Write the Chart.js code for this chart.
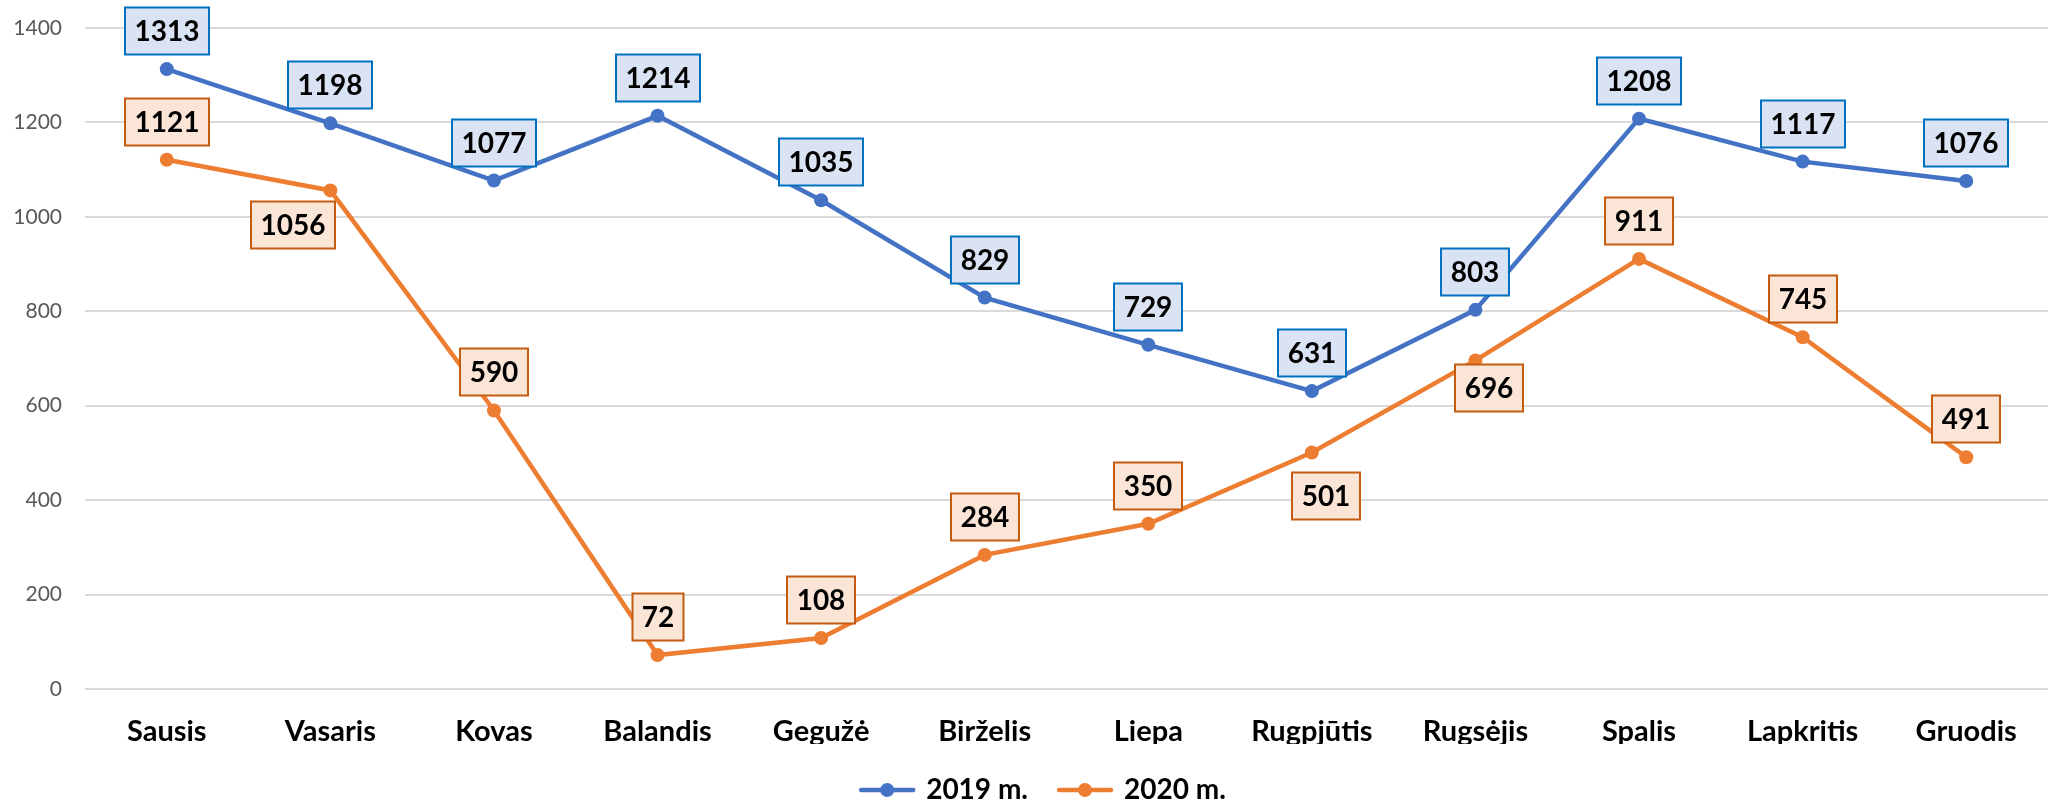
<!DOCTYPE html>
<html>
<head>
<meta charset="utf-8">
<script src="https://cdn.jsdelivr.net/npm/chart.js@4"></script>
<style>
  html, body { margin: 0; padding: 0; background: #fff; }
  #wrap { width: 2057px; height: 805px; }
</style>
</head>
<body>
<div id="wrap"><canvas id="chart"></canvas></div>
<script>
// data
const months = ['Sausis', 'Vasaris', 'Kovas', 'Balandis', 'Gegužė', 'Birželis', 'Liepa', 'Rugpjūtis', 'Rugsėjis', 'Spalis', 'Lapkritis', 'Gruodis'];
const series2019 = [1313, 1198, 1077, 1214, 1035, 829, 729, 631, 803, 1208, 1117, 1076];
const series2020 = [1121, 1056, 590, 72, 108, 284, 350, 501, 696, 911, 745, 491];
const yTicks = [0, 200, 400, 600, 800, 1000, 1200, 1400];

// where each value box sits (offset of box centre from the point)
const ABOVE = [0, -38];
const place2019 = months.map(() => ABOVE);
const place2020 = [ABOVE, [-37, 35], ABOVE, ABOVE, ABOVE, ABOVE, ABOVE, [14, 44], [14, 28], ABOVE, ABOVE, ABOVE];

const FONT = 'Lato, "Open Sans", sans-serif';

function legendIcon(color) {
  const c = document.createElement('canvas');
  c.width = 58; c.height = 18;
  const g = c.getContext('2d');
  g.strokeStyle = color; g.lineWidth = 4.5; g.lineCap = 'round';
  g.beginPath(); g.moveTo(3, 9); g.lineTo(55, 9); g.stroke();
  g.fillStyle = color;
  g.beginPath(); g.arc(29, 9, 7, 0, Math.PI * 2); g.fill();
  return c;
}

const valueBoxes = {
  id: 'valueBoxes',
  afterDatasetsDraw(chart) {
    const ctx = chart.ctx;
    ctx.save();
    ctx.font = 'bold 28px ' + FONT;
    ctx.textAlign = 'center';
    ctx.textBaseline = 'middle';
    chart.data.datasets.forEach((ds, i) => {
      const meta = chart.getDatasetMeta(i);
      meta.data.forEach((pt, j) => {
        const [dx, dy] = ds.boxPlace[j];
        const txt = String(ds.data[j]);
        const w = Math.round(ctx.measureText(txt).width + 19);
        const h = 47;
        const cx = Math.round(pt.x + dx), cy = Math.round(pt.y + dy);
        ctx.fillStyle = ds.boxFill;
        ctx.fillRect(cx - w / 2, cy - h / 2, w, h);
        ctx.lineWidth = 2;
        ctx.strokeStyle = ds.boxBorder;
        ctx.strokeRect(cx - w / 2, cy - h / 2, w, h);
        ctx.fillStyle = '#000';
        ctx.fillText(txt, cx, cy + 1);
      });
    });
    ctx.restore();
  }
};

// legend sits a little right of the canvas centre in the original
const nudgeLegend = {
  id: 'nudgeLegend',
  afterLayout(chart) {
    chart.legend.left += 20;
    chart.legend.right += 20;
  }
};

new Chart(document.getElementById('chart'), {
  type: 'line',
  data: {
    labels: months,
    datasets: [
      {
        label: '2019 m.',
        data: series2019,
        borderColor: '#4472c4',
        backgroundColor: '#4472c4',
        borderWidth: 4.5,
        pointRadius: 7,
        pointHoverRadius: 7,
        pointBorderWidth: 0,
        tension: 0,
        boxFill: '#dae3f3',
        boxBorder: '#0070c0',
        boxPlace: place2019
      },
      {
        label: '2020 m.',
        data: series2020,
        borderColor: '#ed7d31',
        backgroundColor: '#ed7d31',
        borderWidth: 4.5,
        pointRadius: 7,
        pointHoverRadius: 7,
        pointBorderWidth: 0,
        tension: 0,
        boxFill: '#fbe5d6',
        boxBorder: '#c55a11',
        boxPlace: place2020
      }
    ]
  },
  options: {
    responsive: true,
    maintainAspectRatio: false,
    animation: false,
    layout: { padding: { top: 28, right: 9, left: 0, bottom: 0 } },
    plugins: {
      tooltip: { enabled: false },
      legend: {
        position: 'bottom',
        maxHeight: 61,
        labels: {
          usePointStyle: true,
          pointStyleWidth: 50,
          padding: 32,
          color: '#000',
          font: { family: FONT, size: 28, weight: 'bold' },
          generateLabels(chart) {
            return chart.data.datasets.map((ds, i) => ({
              text: ds.label,
              pointStyle: legendIcon(ds.borderColor),
              fillStyle: ds.borderColor,
              strokeStyle: ds.borderColor,
              lineWidth: 0,
              fontColor: '#000',
              hidden: false,
              datasetIndex: i
            }));
          }
        }
      }
    },
    scales: {
      x: {
        offset: true,
        afterFit(axis) { axis.height = 55; },
        grid: { display: false, drawTicks: false },
        border: { display: false },
        ticks: {
          color: '#000',
          padding: 25,
          maxRotation: 0,
          font: { family: FONT, size: 29, weight: 'bold' }
        }
      },
      y: {
        min: 0,
        max: 1400,
        afterFit(axis) {
          axis.width = 85;
          axis.paddingTop = 0;
          axis.paddingBottom = 0;
        },
        afterBuildTicks(axis) { axis.ticks = yTicks.map(v => ({ value: v })); },
        grid: { color: '#d9d9d9', lineWidth: 2, drawTicks: false },
        border: { display: false },
        ticks: {
          color: '#595959',
          padding: 23,
          font: { family: FONT, size: 21 },
          callback: v => String(v)
        }
      }
    }
  },
  plugins: [valueBoxes, nudgeLegend]
});
</script>
</body>
</html>
